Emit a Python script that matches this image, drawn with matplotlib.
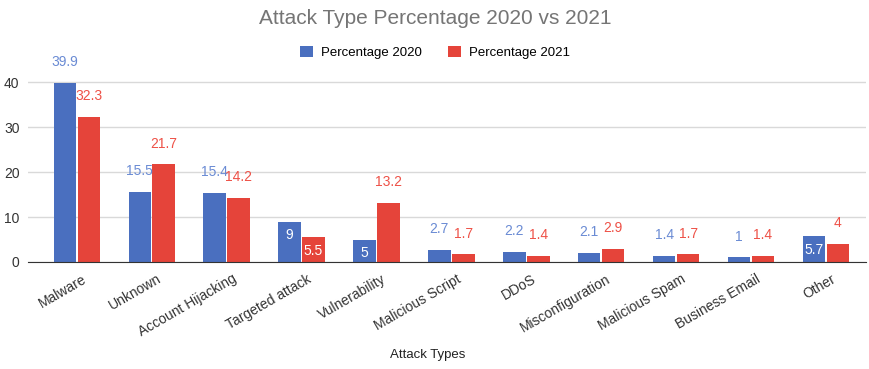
import matplotlib.pyplot as plt
import matplotlib.transforms as mtransforms
import numpy as np

plt.switch_backend('agg')
plt.rcParams['font.family'] = ['Liberation Sans', 'DejaVu Sans']

# Data
categories = ["Malware", "Unknown", "Account Hijacking", "Targeted attack",
              "Vulnerability", "Malicious Script", "DDoS", "Misconfiguration",
              "Malicious Spam", "Business Email", "Other"]
pct_2020 = [39.9, 15.5, 15.4, 9, 5, 2.7, 2.2, 2.1, 1.4, 1, 5.7]
pct_2021 = [32.3, 21.7, 14.2, 5.5, 13.2, 1.7, 1.4, 2.9, 1.7, 1.4, 4]
labels_2020 = ["39.9", "15.5", "15.4", "9", "5", "2.7", "2.2", "2.1", "1.4", "1", "5.7"]
labels_2021 = ["32.3", "21.7", "14.2", "5.5", "13.2", "1.7", "1.4", "2.9", "1.7", "1.4", "4"]

# which labels the original drew inside the bar
inside_2020 = {3, 4, 10}
inside_2021 = {3}

blue = "#4a6fbf"
red = "#e5443a"
blue_txt = "#6a8bd4"
red_txt = "#ee5147"

fig = plt.figure(figsize=(8.7, 3.69), dpi=100)
ax = fig.add_axes([0.032, 0.290, 0.963, 0.574])

x = np.arange(len(categories))
w = 0.30
off = 0.16

b1 = ax.bar(x - off, pct_2020, w, color=blue, label="Percentage 2020", zorder=3)
b2 = ax.bar(x + off, pct_2021, w, color=red, label="Percentage 2021", zorder=3)


def put_labels(bars, labels, inside, col):
    for i, (bar, lab) in enumerate(zip(bars, labels)):
        cx = bar.get_x() + bar.get_width() / 2
        h = bar.get_height()
        if i in inside:
            ax.annotate(lab, (cx, h), xytext=(0, -5), textcoords="offset points",
                        ha="center", va="top", color="white", fontsize=10, zorder=4)
        else:
            ax.annotate(lab, (cx, h), xytext=(0, 15), textcoords="offset points",
                        ha="center", va="center", color=col, fontsize=10, zorder=4)


put_labels(b1, labels_2020, inside_2020, blue_txt)
put_labels(b2, labels_2021, inside_2021, red_txt)

ax.set_xlim(-0.654, 10.53)
ax.set_ylim(0, 47.1)
ax.set_yticks([0, 10, 20, 30, 40])
ax.yaxis.grid(True, color="#d9d9d9", linewidth=1, zorder=0)
ax.tick_params(axis="y", length=0, labelsize=10, labelcolor="#333333", pad=6)
ax.tick_params(axis="x", length=0, labelsize=10, labelcolor="#333333", pad=7)
ax.set_xticks(x)
ax.set_xticklabels(categories, rotation=30, ha="right", rotation_mode="anchor")
# nudge the rotated labels a bit right, like the original
shift = mtransforms.ScaledTranslation(5 / 100, 0, fig.dpi_scale_trans)
for lbl in ax.get_xticklabels():
    lbl.set_transform(lbl.get_transform() + shift)
for s in ["top", "right", "left"]:
    ax.spines[s].set_visible(False)
ax.spines["bottom"].set_color("#333333")
ax.spines["bottom"].set_zorder(5)

fig.text(0.492, 0.038, "Attack Types", ha="center", va="center",
         fontsize=9.5, color="#222222")

fig.text(0.5, 0.95, "Attack Type Percentage 2020 vs 2021", ha="center", va="center",
         fontsize=15, color="#757575")
fig.legend(loc="center", bbox_to_anchor=(0.5, 0.858), ncol=2, frameon=False,
           fontsize=9.5, handlelength=1.0, handleheight=1.0, columnspacing=2.0,
           handletextpad=0.6)

plt.savefig("out.png", dpi=100)
